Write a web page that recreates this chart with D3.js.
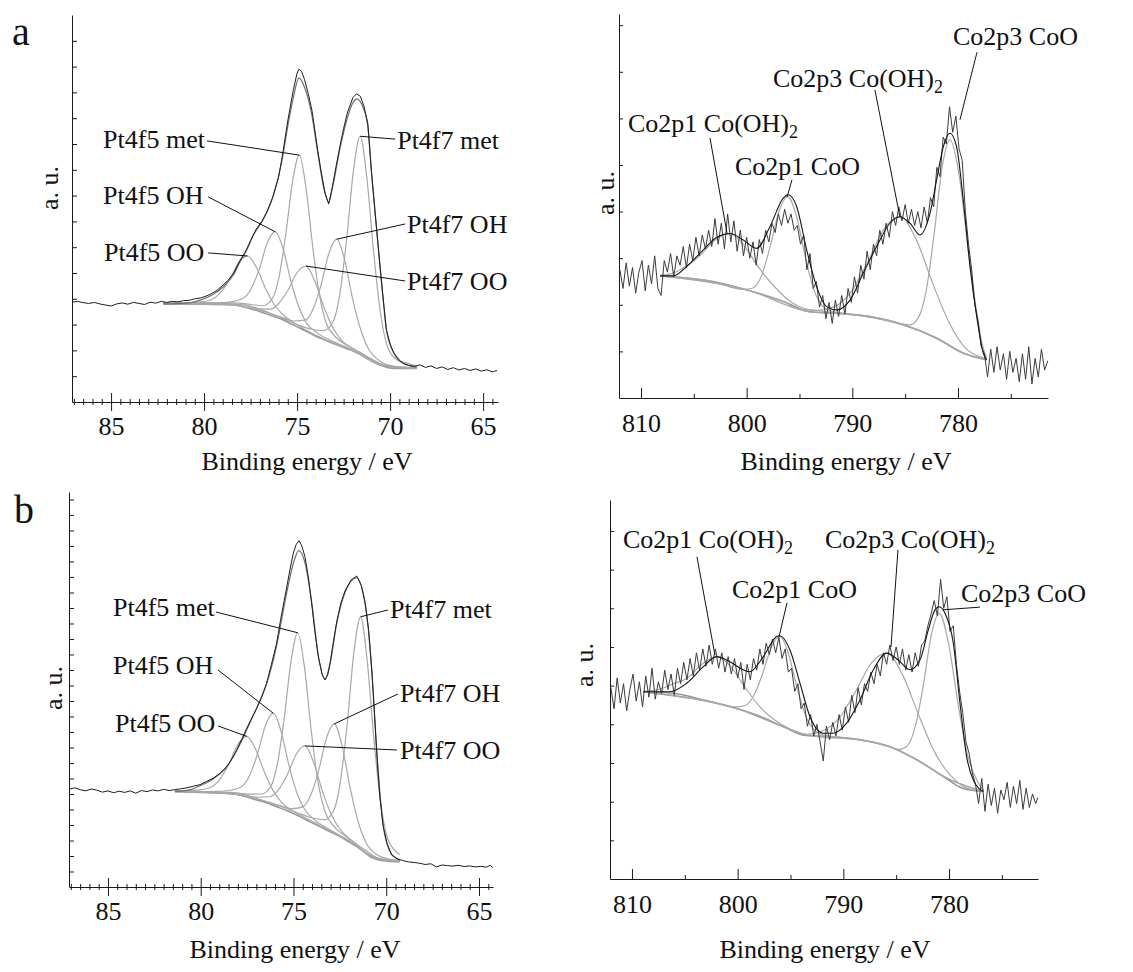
<!DOCTYPE html>
<html>
<head>
<meta charset="utf-8">
<script src="https://cdn.jsdelivr.net/npm/d3@7"></script>
<style>
  body { margin: 0; background: #fff; }
</style>
</head>
<body>
<svg id="fig" width="1133" height="972" font-family="Liberation Serif"></svg>
<script>
// ---- tick labels and annotation texts ----
var ptTicks = [85, 80, 75, 70, 65];
var coTicks = [810, 800, 790, 780];
var ptLabelText = [["Pt4f5 met", ""], ["Pt4f5 OH", ""], ["Pt4f5 OO", ""],
                   ["Pt4f7 met", ""], ["Pt4f7 OH", ""], ["Pt4f7 OO", ""]];
var coLabelText = [["Co2p1 Co(OH)", "2"], ["Co2p1 CoO", ""], ["Co2p3 Co(OH)", "2"], ["Co2p3 CoO", ""]];

// ---- Pt 4f, sample a : [binding energy eV, intensity a.u.] ----
var ptA_raw = [[87.1,3.87],[86.8,3.90],[86.5,3.85],[86.2,3.82],[85.9,3.86],[85.6,3.80],[85.3,3.76],[85.0,3.72],[84.7,3.80],[84.4,3.84],[84.1,3.79],[83.8,3.86],[83.5,3.82],[83.2,3.78],[82.9,3.87],[82.6,3.83],[82.3,3.90],[82.0,3.86],[81.7,3.90],[81.4,3.88],[81.1,3.93],[80.8,3.94],[80.5,4.00],[80.2,4.03],[79.9,4.10],[79.6,4.20],[79.3,4.33],[79.0,4.52],[78.7,4.72],[78.4,5.00],[78.1,5.45],[77.8,5.80],[77.5,6.25],[77.2,6.70],[76.9,7.00],[76.6,7.40],[76.3,7.96],[76.0,8.70],[75.8,9.50],[75.5,10.90],[75.2,12.10],[75.0,12.75],[74.9,12.90],[74.75,12.80],[74.6,12.50],[74.4,11.95],[74.2,11.30],[73.9,9.80],[73.7,8.90],[73.5,8.10],[73.3,7.67],[73.1,8.35],[72.9,9.15],[72.7,9.90],[72.5,10.60],[72.3,11.20],[72.0,11.80],[71.8,11.95],[71.6,11.85],[71.4,11.45],[71.2,10.80],[71.0,8.90],[70.85,7.70],[70.7,6.50],[70.55,5.30],[70.4,4.20],[70.2,2.80],[70.0,2.25],[69.8,1.90],[69.5,1.62],[69.3,1.50],[69.0,1.42],[68.7,1.38],[68.4,1.44],[68.1,1.34],[67.8,1.40],[67.5,1.30],[67.2,1.36],[66.9,1.26],[66.6,1.33],[66.3,1.24],[66.0,1.30],[65.7,1.22],[65.4,1.28],[65.1,1.20],[64.8,1.25],[64.5,1.17],[64.25,1.22]];
var ptA_fit = [[82.2,3.80],[81.0,3.83],[80.2,3.95],[79.5,4.18],[79.0,4.45],[78.4,4.95],[78.06,5.45],[77.7,5.90],[77.4,6.40],[76.8,7.10],[76.3,7.95],[75.8,9.40],[75.5,10.70],[75.2,11.80],[74.9,12.55],[74.6,12.20],[74.2,11.10],[73.9,9.70],[73.5,8.10],[73.3,7.75],[73.1,8.30],[72.7,9.80],[72.3,11.00],[72.0,11.60],[71.8,11.75],[71.5,11.50],[71.2,10.70],[71.0,8.90],[70.7,6.50],[70.4,4.20],[70.2,2.80],[69.8,1.90],[69.3,1.50],[68.56,1.35]];
var ptA_bg = [[82.19,3.80],[80.0,3.79],[78.42,3.76],[77.7,3.65],[76.99,3.50],[76.4,3.35],[75.74,3.18],[75.3,3.02],[74.84,2.86],[74.4,2.70],[73.94,2.53],[73.5,2.40],[73.05,2.27],[72.6,2.14],[72.15,2.02],[71.6,1.85],[71.25,1.69],[70.9,1.55],[70.54,1.43],[70.1,1.33],[69.82,1.30],[68.56,1.30]];
var ptA_met5 = [[82.19,3.82],[80.0,3.83],[78.4,3.84],[77.49,3.78],[76.84,3.73],[76.33,4.01],[75.97,4.85],[75.61,6.49],[75.24,8.56],[74.88,9.57],[74.52,8.30],[74.15,5.96],[73.79,4.11],[73.43,3.05],[72.92,2.51],[72.27,2.18],[71.5,1.88],[70.5,1.47],[69.5,1.33],[68.56,1.32]];
var ptA_met7 = [[82.19,3.82],[78.0,3.77],[76.0,3.31],[74.9,2.97],[74.22,2.82],[73.57,2.77],[73.06,3.12],[72.70,4.20],[72.34,6.29],[71.97,8.97],[71.61,10.30],[71.25,8.69],[70.88,5.77],[70.52,3.46],[70.16,2.19],[69.65,1.64],[69.0,1.49],[68.56,1.40]];
var ptA_oh5 = [[82.19,3.83],[80.5,3.85],[79.24,3.84],[78.48,3.89],[77.88,4.03],[77.46,4.40],[77.03,5.16],[76.61,6.15],[76.18,6.60],[75.75,5.93],[75.33,4.68],[74.90,3.67],[74.48,3.05],[73.88,2.66],[73.12,2.36],[72.2,2.08],[71.0,1.63],[69.8,1.34],[68.56,1.32]];
var ptA_oo5 = [[82.19,3.83],[81.09,3.84],[80.24,3.87],[79.57,3.98],[79.10,4.25],[78.62,4.76],[78.15,5.39],[77.67,5.66],[77.19,5.22],[76.72,4.44],[76.24,3.79],[75.77,3.39],[75.10,3.04],[74.25,2.68],[73.3,2.36],[72.0,1.99],[70.5,1.44],[68.56,1.31]];
var ptA_oh7 = [[82.19,3.82],[79.0,3.80],[77.0,3.55],[75.93,3.31],[75.17,3.14],[74.57,3.17],[74.15,3.59],[73.72,4.51],[73.30,5.74],[72.87,6.31],[72.44,5.49],[72.02,4.02],[71.59,2.83],[71.17,2.07],[70.57,1.60],[69.81,1.39],[68.56,1.33]];
var ptA_oo7 = [[82.19,3.83],[79.5,3.83],[77.94,3.77],[77.09,3.62],[76.42,3.60],[75.95,3.85],[75.47,4.36],[75.00,5.02],[74.52,5.27],[74.04,4.67],[73.57,3.70],[73.09,2.90],[72.62,2.40],[71.95,2.06],[71.10,1.69],[70.2,1.40],[68.56,1.32]];

// ---- Pt 4f, sample b ----
var ptB_raw = [[87.1,6.30],[86.8,6.40],[86.5,6.28],[86.2,6.20],[85.9,6.32],[85.6,6.25],[85.3,6.12],[85.0,6.20],[84.7,6.08],[84.4,6.18],[84.1,6.10],[83.8,6.20],[83.5,6.05],[83.2,6.22],[82.9,6.15],[82.6,6.26],[82.3,6.20],[82.0,6.30],[81.7,6.22],[81.4,6.28],[81.1,6.33],[80.74,6.40],[80.4,6.50],[80.04,6.60],[79.7,6.80],[79.32,7.02],[78.95,7.35],[78.6,7.76],[78.3,8.30],[78.06,8.84],[77.8,9.50],[77.52,10.24],[77.25,10.90],[76.98,11.53],[76.7,12.30],[76.45,13.14],[76.2,14.30],[75.91,15.72],[75.7,17.20],[75.46,18.73],[75.2,20.40],[75.01,21.53],[74.85,22.10],[74.70,22.34],[74.55,22.00],[74.38,21.30],[74.2,20.00],[74.02,18.30],[73.85,16.50],[73.66,14.86],[73.45,13.70],[73.30,13.35],[73.15,13.70],[73.03,14.43],[72.85,15.80],[72.67,17.10],[72.45,18.30],[72.22,19.10],[71.9,19.80],[71.59,20.06],[71.35,19.45],[71.15,18.40],[70.95,16.60],[70.78,14.00],[70.65,11.50],[70.51,8.62],[70.35,5.90],[70.16,3.89],[69.95,2.80],[69.71,2.06],[69.4,1.80],[69.08,1.70],[68.8,1.62],[68.5,1.58],[68.18,1.53],[67.9,1.45],[67.6,1.50],[67.3,1.30],[67.0,1.42],[66.7,1.38],[66.4,1.35],[66.1,1.40],[65.8,1.32],[65.5,1.36],[65.2,1.30],[64.9,1.33],[64.6,1.28],[64.4,1.40],[64.25,1.25]];
var ptB_fit = [[81.39,6.15],[80.5,6.30],[80.0,6.55],[79.3,7.00],[78.6,7.75],[78.06,8.80],[77.5,10.20],[77.0,11.50],[76.45,13.10],[75.9,15.60],[75.46,18.40],[75.0,20.90],[74.72,21.70],[74.4,21.00],[74.0,18.20],[73.66,14.90],[73.3,13.40],[73.03,14.40],[72.67,17.00],[72.22,19.00],[71.6,19.95],[71.15,18.40],[70.78,14.00],[70.5,8.60],[70.16,3.90],[69.7,2.10],[69.26,1.75]];
var ptB_bg = [[81.39,6.15],[80.0,6.10],[78.24,6.00],[77.5,5.80],[76.98,5.61],[76.5,5.45],[75.91,5.18],[75.3,4.90],[74.65,4.54],[74.1,4.20],[73.57,3.89],[73.0,3.55],[72.49,3.25],[72.0,2.90],[71.59,2.60],[71.2,2.26],[70.88,1.96],[70.5,1.78],[70.16,1.70],[69.26,1.63]];
var ptB_met5 = [[81.39,6.20],[79.5,6.15],[78.2,6.09],[77.38,5.99],[76.73,6.00],[76.22,6.50],[75.86,7.99],[75.50,10.88],[75.13,14.58],[74.77,16.40],[74.41,14.20],[74.04,10.07],[73.68,6.78],[73.32,4.92],[72.81,3.90],[72.16,3.26],[71.3,2.52],[70.3,1.80],[69.26,1.66]];
var ptB_met7 = [[81.39,6.18],[78.0,5.99],[76.0,5.32],[74.6,4.70],[73.99,4.45],[73.34,4.34],[72.83,4.94],[72.47,6.83],[72.11,10.47],[71.74,15.17],[71.38,17.43],[71.02,14.52],[70.65,9.35],[70.29,5.34],[69.93,3.16],[69.42,2.23],[69.26,2.10]];
var ptB_oh5 = [[81.39,6.20],[80.2,6.15],[79.15,6.17],[78.39,6.24],[77.79,6.48],[77.37,7.18],[76.94,8.58],[76.52,10.39],[76.09,11.21],[75.66,10.00],[75.24,7.83],[74.81,6.05],[74.39,5.00],[73.79,4.26],[73.03,3.69],[72.0,3.00],[70.8,2.00],[69.26,1.66]];
var ptB_oo5 = [[81.39,6.20],[80.94,6.21],[80.09,6.26],[79.42,6.45],[78.95,6.97],[78.47,7.96],[78.0,9.19],[77.52,9.72],[77.04,8.89],[76.57,7.42],[76.09,6.20],[75.62,5.43],[74.95,4.86],[74.10,4.30],[73.2,3.72],[72.0,2.95],[70.5,1.82],[69.26,1.65]];
var ptB_oh7 = [[81.39,6.18],[78.5,6.03],[76.8,5.62],[75.86,5.30],[75.10,5.05],[74.50,5.17],[74.08,5.90],[73.65,7.48],[73.23,9.57],[72.80,10.52],[72.37,9.06],[71.95,6.42],[71.52,4.24],[71.10,2.89],[70.50,2.08],[69.74,1.78],[69.26,1.70]];
var ptB_oo7 = [[81.39,6.19],[79.0,6.06],[77.80,5.97],[76.95,5.79],[76.28,5.82],[75.81,6.26],[75.33,7.25],[74.86,8.55],[74.38,9.10],[73.90,7.99],[73.43,6.15],[72.95,4.65],[72.48,3.71],[71.81,2.95],[70.96,2.11],[70.1,1.76],[69.26,1.67]];

// ---- Co 2p, sample a ----
var coA_raw = [[812.0,2.75],[811.7,2.35],[811.4,2.90],[811.1,2.40],[810.8,2.80],[810.5,2.25],[810.2,2.70],[809.9,2.95],[809.6,2.30],[809.3,2.85],[809.0,2.45],[808.7,3.05],[808.4,2.35],[808.1,2.20],[807.8,2.95],[807.5,2.70],[807.2,3.10],[806.9,2.60],[806.6,3.05],[806.3,2.85],[806.0,3.25],[805.7,2.80],[805.4,3.30],[805.1,2.95],[804.8,3.45],[804.5,3.05],[804.2,3.50],[803.9,3.20],[803.6,3.60],[803.3,3.25],[803.0,3.85],[802.7,3.30],[802.4,3.75],[802.1,3.20],[801.8,3.95],[801.5,3.35],[801.2,3.80],[800.9,3.15],[800.6,3.60],[800.3,3.05],[800.0,3.45],[799.7,3.00],[799.4,3.35],[799.1,2.85],[798.8,3.40],[798.5,3.10],[798.2,3.60],[797.9,3.35],[797.6,3.75],[797.3,3.55],[797.0,3.95],[796.7,3.70],[796.4,4.05],[796.1,3.75],[795.8,3.95],[795.5,3.60],[795.2,3.70],[794.9,3.30],[794.6,3.50],[794.3,2.75],[794.0,3.10],[793.7,2.35],[793.4,2.50],[793.1,1.95],[792.8,2.20],[792.5,1.70],[792.2,2.05],[791.9,1.60],[791.6,2.10],[791.3,1.75],[791.0,2.20],[790.7,1.80],[790.4,2.35],[790.1,2.05],[789.8,2.60],[789.5,2.25],[789.2,2.85],[788.9,2.55],[788.6,3.15],[788.3,2.75],[788.0,3.30],[787.7,3.05],[787.4,3.60],[787.1,3.30],[786.8,3.75],[786.5,3.45],[786.2,4.00],[785.9,3.70],[785.6,4.10],[785.3,3.80],[785.0,4.15],[784.7,3.75],[784.4,4.05],[784.1,3.70],[783.8,4.00],[783.5,3.65],[783.2,4.10],[782.9,3.75],[782.6,4.30],[782.3,4.10],[782.0,4.95],[781.7,4.75],[781.4,5.60],[781.1,5.45],[780.8,6.25],[780.5,5.70],[780.2,6.05],[779.9,5.35],[779.6,5.10],[779.3,4.00],[779.0,3.30],[778.7,2.75],[778.4,2.00],[778.1,1.65],[777.8,1.10],[777.5,0.95],[777.2,0.45],[776.9,1.05],[776.6,0.55],[776.3,1.10],[776.0,0.60],[775.7,0.95],[775.4,0.40],[775.1,1.00],[774.8,0.55],[774.5,0.85],[774.2,0.35],[773.9,0.95],[773.6,0.40],[773.3,1.10],[773.0,0.30],[772.7,0.85],[772.4,0.45],[772.1,1.05],[771.8,0.60],[771.5,0.80]];
var coA_fit = [[808.20,2.62],[806.94,2.62],[805.68,2.82],[804.10,3.18],[802.84,3.45],[801.58,3.53],[800.32,3.39],[799.05,3.21],[797.79,3.68],[796.53,4.29],[796.06,4.36],[795.27,4.11],[794.32,3.18],[793.38,2.39],[792.43,1.96],[791.48,1.89],[790.22,2.10],[788.96,2.68],[787.70,3.25],[786.44,3.75],[785.49,3.89],[784.54,3.75],[783.60,3.50],[782.65,3.96],[782.02,4.68],[781.39,5.39],[780.76,5.68],[780.13,5.39],[779.50,4.25],[778.86,2.82],[778.23,1.75],[777.60,0.96],[777.29,0.82]];
var coA_bg = [[808.20,2.62],[803.16,2.50],[800.0,2.32],[796.53,2.07],[794.0,1.85],[791.48,1.82],[788.33,1.74],[785.18,1.57],[782.02,1.28],[779.50,0.96],[777.29,0.82]];
var coA_p1oh = [[808.2,2.63],[807.08,2.67],[805.68,2.83],[804.33,3.08],[802.98,3.39],[801.58,3.53],[800.18,3.25],[798.83,2.79],[797.48,2.42],[796.08,2.11],[794.5,1.92],[791.5,1.83],[788.3,1.75],[785.2,1.58],[782.0,1.29],[779.5,0.97],[777.29,0.83]];
var coA_p1coo = [[808.2,2.62],[803.2,2.50],[800.3,2.33],[799.4,2.36],[798.6,2.62],[797.75,3.27],[796.9,4.03],[796.1,4.32],[795.3,3.91],[794.45,3.02],[793.6,2.30],[792.8,1.97],[791.9,1.86],[788.3,1.75],[785.2,1.57],[782.0,1.28],[779.5,0.96],[777.29,0.82]];
var coA_p3oh = [[808.2,2.62],[800.0,2.32],[796.5,2.07],[794.9,1.90],[793.29,1.88],[791.69,1.96],[790.14,2.27],[788.59,2.89],[786.99,3.63],[785.49,3.89],[783.99,3.42],[782.39,2.46],[780.84,1.62],[779.29,1.07],[777.69,0.87],[777.29,0.84]];
var coA_p3coo = [[808.2,2.62],[800.0,2.32],[794.0,1.85],[790.0,1.79],[786.5,1.66],[785.3,1.59],[784.56,1.57],[783.76,1.72],[783.01,2.30],[782.26,3.51],[781.48,4.98],[780.76,5.54],[779.9,4.80],[779.0,3.12],[778.3,1.95],[777.7,1.15],[777.29,0.86]];

// ---- Co 2p, sample b ----
var coB_raw = [[812.0,4.95],[811.7,4.40],[811.4,5.20],[811.1,4.55],[810.8,5.05],[810.5,4.35],[810.2,4.90],[809.9,5.30],[809.6,4.60],[809.3,5.10],[809.0,4.45],[808.7,5.25],[808.4,4.70],[808.1,5.45],[807.8,4.65],[807.5,5.10],[807.2,4.80],[806.9,5.40],[806.6,4.90],[806.3,5.30],[806.0,4.75],[805.7,5.45],[805.4,5.05],[805.1,5.60],[804.8,5.15],[804.5,5.70],[804.2,5.25],[803.9,5.85],[803.6,5.40],[803.3,5.95],[803.0,5.50],[802.7,6.05],[802.4,5.55],[802.1,5.95],[801.8,5.45],[801.5,5.85],[801.2,5.35],[800.9,5.75],[800.6,5.30],[800.3,5.70],[800.0,5.20],[799.7,5.60],[799.4,4.90],[799.1,5.55],[798.8,5.15],[798.5,5.70],[798.2,5.40],[797.9,5.95],[797.6,5.55],[797.3,6.10],[797.0,5.80],[796.7,6.20],[796.4,5.85],[796.1,6.25],[795.8,5.70],[795.5,5.95],[795.2,5.35],[794.9,5.45],[794.6,4.85],[794.3,5.05],[794.0,4.40],[793.7,4.55],[793.4,3.95],[793.1,4.25],[792.8,3.70],[792.5,4.00],[792.2,3.55],[791.9,3.05],[791.6,3.95],[791.3,3.60],[791.0,4.05],[790.7,3.70],[790.4,4.25],[790.1,3.85],[789.8,4.45],[789.5,4.05],[789.2,4.75],[788.9,4.30],[788.6,4.95],[788.3,4.50],[788.0,5.05],[787.7,4.85],[787.4,5.35],[787.1,5.05],[786.8,5.55],[786.5,5.25],[786.2,5.85],[785.9,5.55],[785.6,6.05],[785.3,5.65],[785.0,6.00],[784.7,5.55],[784.4,5.95],[784.1,5.40],[783.8,5.80],[783.5,5.35],[783.2,5.85],[782.9,5.50],[782.6,6.05],[782.3,6.15],[782.0,6.55],[781.7,6.85],[781.4,7.20],[781.1,6.80],[780.8,7.75],[780.5,7.00],[780.2,7.30],[779.9,6.40],[779.6,6.55],[779.3,5.55],[779.0,4.85],[778.7,4.30],[778.4,3.55],[778.1,3.25],[777.8,2.75],[777.5,2.45],[777.2,1.95],[776.9,2.60],[776.6,1.75],[776.3,2.45],[776.0,1.90],[775.7,2.35],[775.4,1.70],[775.1,2.30],[774.8,2.05],[774.5,2.50],[774.2,1.85],[773.9,2.40],[773.6,1.95],[773.3,2.55],[773.0,1.80],[772.7,2.35],[772.4,1.85],[772.1,2.20],[771.8,1.95],[771.6,2.10]];
var coB_fit = [[808.93,4.84],[806.41,4.84],[804.83,5.06],[803.25,5.49],[801.99,5.75],[800.73,5.62],[799.47,5.41],[798.84,5.36],[797.57,5.75],[796.31,6.27],[796.0,6.29],[795.05,5.92],[794.10,5.06],[793.16,4.20],[791.90,3.77],[790.95,3.77],[789.69,4.03],[788.43,4.63],[787.16,5.41],[785.90,5.84],[784.80,5.66],[783.69,5.41],[782.75,5.66],[781.96,6.44],[781.33,6.96],[780.92,7.04],[780.38,6.87],[779.59,6.09],[778.96,4.54],[778.33,3.16],[777.70,2.56],[776.75,2.26]];
var coB_bg = [[808.93,4.84],[806.09,4.80],[803.25,4.63],[800.73,4.46],[798.20,4.24],[795.68,3.94],[793.79,3.72],[791.27,3.68],[788.11,3.59],[785.59,3.42],[783.06,3.08],[780.54,2.65],[778.65,2.34],[776.75,2.26]];
var coB_p1oh = [[808.93,4.85],[807.49,4.90],[806.09,5.05],[804.74,5.20],[803.39,5.55],[801.99,5.75],[800.59,5.47],[799.24,4.93],[797.89,4.45],[796.49,4.11],[795.0,3.87],[793.0,3.71],[790.0,3.65],[786.0,3.46],[783.0,3.08],[780.0,2.58],[776.75,2.27]];
var coB_p1coo = [[808.93,4.84],[803.0,4.61],[800.2,4.45],[799.3,4.48],[798.5,4.73],[797.65,5.30],[796.8,6.00],[796.0,6.27],[795.2,5.83],[794.35,4.92],[793.5,4.17],[792.7,3.84],[791.8,3.72],[789.0,3.62],[785.6,3.42],[783.0,3.08],[780.5,2.65],[776.75,2.26]];
var coB_p3oh = [[808.93,4.84],[800.0,4.40],[795.7,3.94],[793.5,3.74],[791.9,3.84],[790.4,4.16],[788.9,4.82],[787.35,5.58],[785.9,5.84],[784.45,5.31],[782.9,4.26],[781.4,3.30],[779.9,2.69],[778.3,2.35],[776.75,2.27]];
var coB_p3coo = [[808.93,4.84],[800.0,4.40],[793.0,3.70],[788.0,3.58],[785.6,3.42],[784.72,3.35],[783.92,3.45],[783.17,3.97],[782.42,5.03],[781.64,6.36],[780.92,6.87],[780.06,6.11],[779.12,4.49],[778.22,3.18],[777.32,2.53],[776.75,2.30]];

// ---- drawing ----
var svg = d3.select("#fig");
var FONT = 26;
var SERIF = "Liberation Serif";

var RAW = {color: "#1e1e1e", width: 1, raw: true};
var PTFIT = {color: "#707070", width: 1.2};
var COMP = {color: "#a8a8a8", width: 1.2};
var BG = {color: "#969696", width: 1.5};
var COFIT = {color: "#151515", width: 1.1};
var CORAW = {color: "#3c3c3c", width: 1, raw: true};

function drawPanel(p) {
  var x = d3.scaleLinear().domain(p.xDomain).range([p.left, p.right]);
  var y = d3.scaleLinear().domain([0, p.yMax]).range([p.bottom, p.top]);
  var g = svg.append("g");

  var smooth = d3.line().x(function(d) { return x(d[0]); }).y(function(d) { return y(d[1]); })
    .curve(d3.curveMonotoneX);
  var rough = d3.line().x(function(d) { return x(d[0]); }).y(function(d) { return y(d[1]); });

  p.series.forEach(function(s) {
    var data = s[0].slice().sort(function(a, b) { return b[0] - a[0]; });
    var st = s[1];
    g.append("path")
      .attr("d", (st.raw ? rough : smooth)(data))
      .attr("fill", "none")
      .attr("stroke", st.color)
      .attr("stroke-width", st.width)
      .attr("stroke-linejoin", "round");
  });

  // x axis, major ticks with labels
  var gx = g.append("g")
    .attr("transform", "translate(0," + p.bottom + ")")
    .call(d3.axisBottom(x).tickValues(p.xTicks).tickFormat(d3.format("d"))
      .tickSizeOuter(0).tickSizeInner(p.majorDown).tickPadding(p.pad));
  gx.attr("font-family", SERIF).attr("font-size", FONT);
  gx.selectAll(".tick line").attr("y1", -p.majorUp);
  gx.selectAll("text").attr("fill", "#111");

  // minor ticks
  var gm = g.append("g")
    .attr("transform", "translate(0," + p.bottom + ")")
    .call(d3.axisBottom(x).tickValues(p.xMinor).tickFormat("")
      .tickSizeOuter(0).tickSizeInner(p.minorDown));
  gm.select(".domain").remove();
  gm.selectAll(".tick line").attr("y1", -p.minorUp);

  // y axis, unlabeled ticks pointing inwards
  g.append("g")
    .attr("transform", "translate(" + p.left + ",0)")
    .call(d3.axisRight(y).tickValues(d3.range(1, p.yTicks + 1)).tickFormat("")
      .tickSizeOuter(0).tickSizeInner(p.yTick));

  g.selectAll(".domain, .tick line").attr("stroke", "#1a1a1a").attr("stroke-width", 1);

  // axis titles
  g.append("text")
    .attr("x", p.title[0]).attr("y", p.title[1])
    .attr("font-family", SERIF).attr("font-size", FONT).attr("fill", "#111")
    .attr("text-anchor", "middle")
    .text("Binding energy / eV");
  g.append("text")
    .attr("transform", "translate(" + p.au[0] + "," + p.au[1] + ")rotate(-90)")
    .attr("font-family", SERIF).attr("font-size", FONT).attr("fill", "#111")
    .attr("text-anchor", "middle")
    .text("a. u.");

  // peak labels with leader lines
  p.notes.forEach(function(n, i) {
    var t = g.append("text")
      .attr("x", x(n.at[0])).attr("y", y(n.at[1]))
      .attr("font-family", SERIF).attr("font-size", FONT).attr("fill", "#111");
    t.append("tspan").text(p.labels[i][0]);
    if (p.labels[i][1]) {
      t.append("tspan").attr("font-size", 18).attr("dy", 6).text(p.labels[i][1]);
    }
    g.append("line")
      .attr("x1", x(n.from[0])).attr("y1", y(n.from[1]))
      .attr("x2", x(n.to[0])).attr("y2", y(n.to[1]))
      .attr("stroke", "#111").attr("stroke-width", 1);
  });
}

var ptMinor = d3.range(87, 64, -0.5).filter(function(v) { return v % 5 !== 0; });
var coMinor = [805, 795, 785, 775];

drawPanel({
  left: 72, right: 498, top: 15, bottom: 402,
  xDomain: [87.1, 64.2], yMax: 15, yTicks: 14,
  xTicks: ptTicks, xMinor: ptMinor,
  majorUp: 9, majorDown: 9, minorUp: 3, minorDown: 3, pad: 6, yTick: 5,
  title: [307, 470], au: [58, 188],
  series: [[ptA_bg, BG], [ptA_oo5, COMP], [ptA_oh5, COMP], [ptA_met5, COMP],
           [ptA_oo7, COMP], [ptA_oh7, COMP], [ptA_met7, COMP], [ptA_fit, PTFIT], [ptA_raw, RAW]],
  labels: ptLabelText,
  notes: [
    {at: [85.43, 9.84], from: [79.84, 10.12], to: [74.88, 9.57]},
    {at: [85.43, 7.67], from: [79.78, 7.95], to: [76.18, 6.60]},
    {at: [85.38, 5.47], from: [79.78, 5.78], to: [77.67, 5.66]},
    {at: [69.62, 9.81], from: [69.73, 10.19], to: [71.61, 10.30]},
    {at: [69.09, 6.55], from: [69.19, 6.90], to: [72.87, 6.31]},
    {at: [69.09, 4.34], from: [69.19, 4.69], to: [74.52, 5.27]}
  ]
});

drawPanel({
  left: 69, right: 493, top: 492, bottom: 887,
  xDomain: [87.1, 64.245], yMax: 25.48, yTicks: 25,
  xTicks: ptTicks, xMinor: ptMinor,
  majorUp: 9, majorDown: 9, minorUp: 3, minorDown: 3, pad: 6, yTick: 5,
  title: [295, 958], au: [62, 688],
  series: [[ptB_bg, BG], [ptB_oo5, COMP], [ptB_oh5, COMP], [ptB_met5, COMP],
           [ptB_oo7, COMP], [ptB_oh7, COMP], [ptB_met7, COMP], [ptB_fit, PTFIT], [ptB_raw, RAW]],
  labels: ptLabelText,
  notes: [
    {at: [84.73, 17.48], from: [79.18, 17.74], to: [74.77, 16.40]},
    {at: [84.73, 13.74], from: [79.07, 14.00], to: [76.09, 11.21]},
    {at: [84.62, 10.0], from: [79.07, 10.39], to: [77.52, 9.72]},
    {at: [69.80, 17.35], from: [69.91, 17.87], to: [71.38, 17.43]},
    {at: [69.26, 11.94], from: [69.37, 12.45], to: [72.80, 10.52]},
    {at: [69.26, 8.26], from: [69.42, 8.84], to: [74.38, 9.10]}
  ]
});

drawPanel({
  left: 619, right: 1048, top: 14, bottom: 398,
  xDomain: [812.08, 771.48], yMax: 8.24, yTicks: 8,
  xTicks: coTicks, xMinor: coMinor,
  majorUp: 10, majorDown: 0, minorUp: 4, minorDown: 0, pad: 16, yTick: 4,
  title: [846, 470], au: [614, 193],
  series: [[coA_bg, BG], [coA_p1oh, COMP], [coA_p1coo, COMP], [coA_p3oh, COMP], [coA_p3coo, COMP],
           [coA_raw, CORAW], [coA_fit, COFIT]],
  labels: coLabelText,
  notes: [
    {at: [811.23, 5.71], from: [803.47, 5.58], to: [801.86, 3.54]},
    {at: [801.10, 4.79], from: [795.71, 4.68], to: [796.18, 4.31]},
    {at: [797.51, 6.67], from: [787.86, 6.61], to: [785.49, 3.88]},
    {at: [780.47, 7.58], from: [778.2, 7.42], to: [779.81, 5.97]}
  ]
});

drawPanel({
  left: 610, right: 1038, top: 500, bottom: 879,
  xDomain: [812.08, 771.58], yMax: 9.80, yTicks: 9,
  xTicks: coTicks, xMinor: coMinor,
  majorUp: 10, majorDown: 0, minorUp: 4, minorDown: 0, pad: 16, yTick: 4,
  title: [825, 958], au: [593, 665],
  series: [[coB_bg, BG], [coB_p1oh, COMP], [coB_p1coo, COMP], [coB_p3oh, COMP], [coB_p3coo, COMP],
           [coB_raw, CORAW], [coB_fit, COFIT]],
  labels: coLabelText,
  notes: [
    {at: [810.85, 8.56], from: [803.85, 8.33], to: [802.15, 5.79]},
    {at: [800.54, 7.27], from: [795.33, 7.14], to: [796.09, 6.26]},
    {at: [791.74, 8.56], from: [784.83, 8.51], to: [785.49, 6.00]},
    {at: [778.87, 7.16], from: [777.07, 7.03], to: [780.57, 6.96]}
  ]
});

// panel letters
svg.append("text").attr("x", 12).attr("y", 45)
  .attr("font-family", SERIF).attr("font-size", 40).attr("fill", "#111").text("a");
svg.append("text").attr("x", 14).attr("y", 523)
  .attr("font-family", SERIF).attr("font-size", 40).attr("fill", "#111").text("b");
</script>
</body>
</html>
